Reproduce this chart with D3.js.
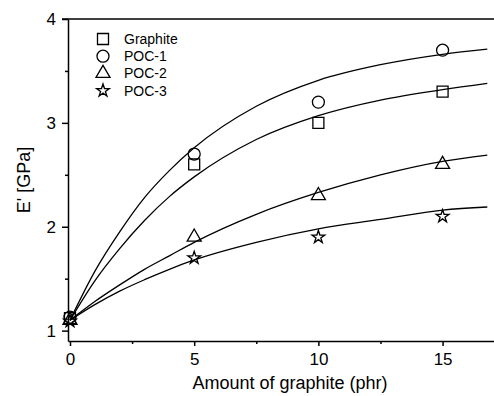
<!DOCTYPE html>
<html>
<head>
<meta charset="utf-8">
<script src="https://cdn.jsdelivr.net/npm/d3@7"></script>
<style>
  body { margin: 0; background: #fff; }
  text { font-family: Arial, "Liberation Sans", sans-serif; fill: #000; }
</style>
</head>
<body>
<script>
// measured points
var amount = [0, 5, 10, 15];
var graphite = [1.12, 2.6, 3.0, 3.3];
var poc1 = [1.13, 2.7, 3.2, 3.7];
var poc2 = [1.1, 1.9, 2.3, 2.6];
var poc3 = [1.09, 1.7, 1.9, 2.1];

// fitted curves
var fitX = [0, 1, 2, 3, 4, 5, 7.5, 10, 12.5, 15, 16.8];
var fitGraphite = [1.10, 1.48, 1.79, 2.06, 2.29, 2.48, 2.84, 3.07, 3.22, 3.32, 3.38];
var fitPoc1 = [1.10, 1.57, 1.95, 2.28, 2.54, 2.76, 3.16, 3.41, 3.56, 3.66, 3.71];
var fitPoc2 = [1.10, 1.28, 1.44, 1.59, 1.72, 1.85, 2.12, 2.33, 2.50, 2.63, 2.69];
var fitPoc3 = [1.10, 1.25, 1.38, 1.49, 1.59, 1.68, 1.85, 1.98, 2.07, 2.16, 2.19];

var seriesNames = ['Graphite', 'POC-1', 'POC-2', 'POC-3'];
var xTicks = [0, 5, 10, 15];
var xMinor = [2.5, 7.5, 12.5];
var yTicks = [1, 2, 3, 4];
var yMinor = [1.5, 2.5, 3.5];

var width = 494, height = 396;
var svg = d3.select('body').append('svg')
  .attr('width', width).attr('height', height);

var x = d3.scaleLinear().domain([-0.08, 17.07]).range([68, 494]);
var y = d3.scaleLinear().domain([0.9, 4]).range([341, 19]);

var symbols = [
  {type: d3.symbolSquare, size: 121},
  {type: d3.symbolCircle, size: 113},
  {type: d3.symbolTriangle, size: 85},
  {type: d3.symbolStar, size: 50}
];
var points = [graphite, poc1, poc2, poc3];
var fits = [fitGraphite, fitPoc1, fitPoc2, fitPoc3];

// curves
var line = d3.line()
  .x(function(d, i) { return x(fitX[i]); })
  .y(function(d) { return y(d); })
  .curve(d3.curveMonotoneX);

svg.append('g').selectAll('path')
  .data(fits).enter().append('path')
  .attr('d', line)
  .style('fill', 'none').style('stroke', '#000').style('stroke-width', 1.3);

// markers
points.forEach(function(vals, s) {
  svg.append('g').selectAll('path')
    .data(vals).enter().append('path')
    .attr('transform', function(d, i) { return 'translate(' + x(amount[i]) + ',' + y(d) + ')'; })
    .attr('d', d3.symbol().type(symbols[s].type).size(symbols[s].size))
    .style('fill', 'none').style('stroke', '#000').style('stroke-width', 1.3);
});

// axes
svg.append('g').attr('transform', 'translate(0,341)')
  .call(d3.axisBottom(x).tickValues(xTicks).tickSize(5).tickSizeOuter(0).tickPadding(7).tickFormat(d3.format('d')));
svg.append('g').attr('transform', 'translate(0,341)')
  .call(d3.axisBottom(x).tickValues(xMinor).tickSize(3).tickSizeOuter(0).tickFormat(''))
  .select('.domain').remove();
svg.append('g').attr('transform', 'translate(68,0)')
  .call(d3.axisLeft(y).tickValues(yTicks).tickSize(6).tickSizeOuter(0).tickPadding(6).tickFormat(d3.format('d')));
svg.append('g').attr('transform', 'translate(68,0)')
  .call(d3.axisLeft(y).tickValues(yMinor).tickSize(3).tickSizeOuter(0).tickFormat(''))
  .select('.domain').remove();

svg.selectAll('.tick text').style('font-size', '17px')
  .style('font-family', 'Arial, "Liberation Sans", sans-serif');
svg.selectAll('.domain, .tick line').style('stroke', '#000').style('stroke-width', 1.5);

// top frame line
svg.append('line')
  .attr('x1', 62).attr('x2', 494).attr('y1', y(4)).attr('y2', y(4))
  .style('stroke', '#000').style('stroke-width', 1.5);

// titles
svg.append('text').attr('x', 290).attr('y', 389)
  .attr('text-anchor', 'middle').style('font-size', '18px')
  .text('Amount of graphite (phr)');
svg.append('text').attr('transform', 'translate(30,180) rotate(-90)')
  .attr('text-anchor', 'middle').style('font-size', '18px')
  .text("E' [GPa]");

// legend
var legend = svg.append('g').selectAll('g')
  .data(seriesNames).enter().append('g')
  .attr('transform', function(d, i) { return 'translate(103,' + (39 + i * 17.2) + ')'; });
legend.append('path')
  .attr('d', function(d, i) { return d3.symbol().type(symbols[i].type).size(symbols[i].size)(); })
  .style('fill', 'none').style('stroke', '#000').style('stroke-width', 1.3);
legend.append('text').attr('x', 21).attr('dy', '0.35em')
  .style('font-size', '14px')
  .text(function(d) { return d; });
</script>
</body>
</html>
